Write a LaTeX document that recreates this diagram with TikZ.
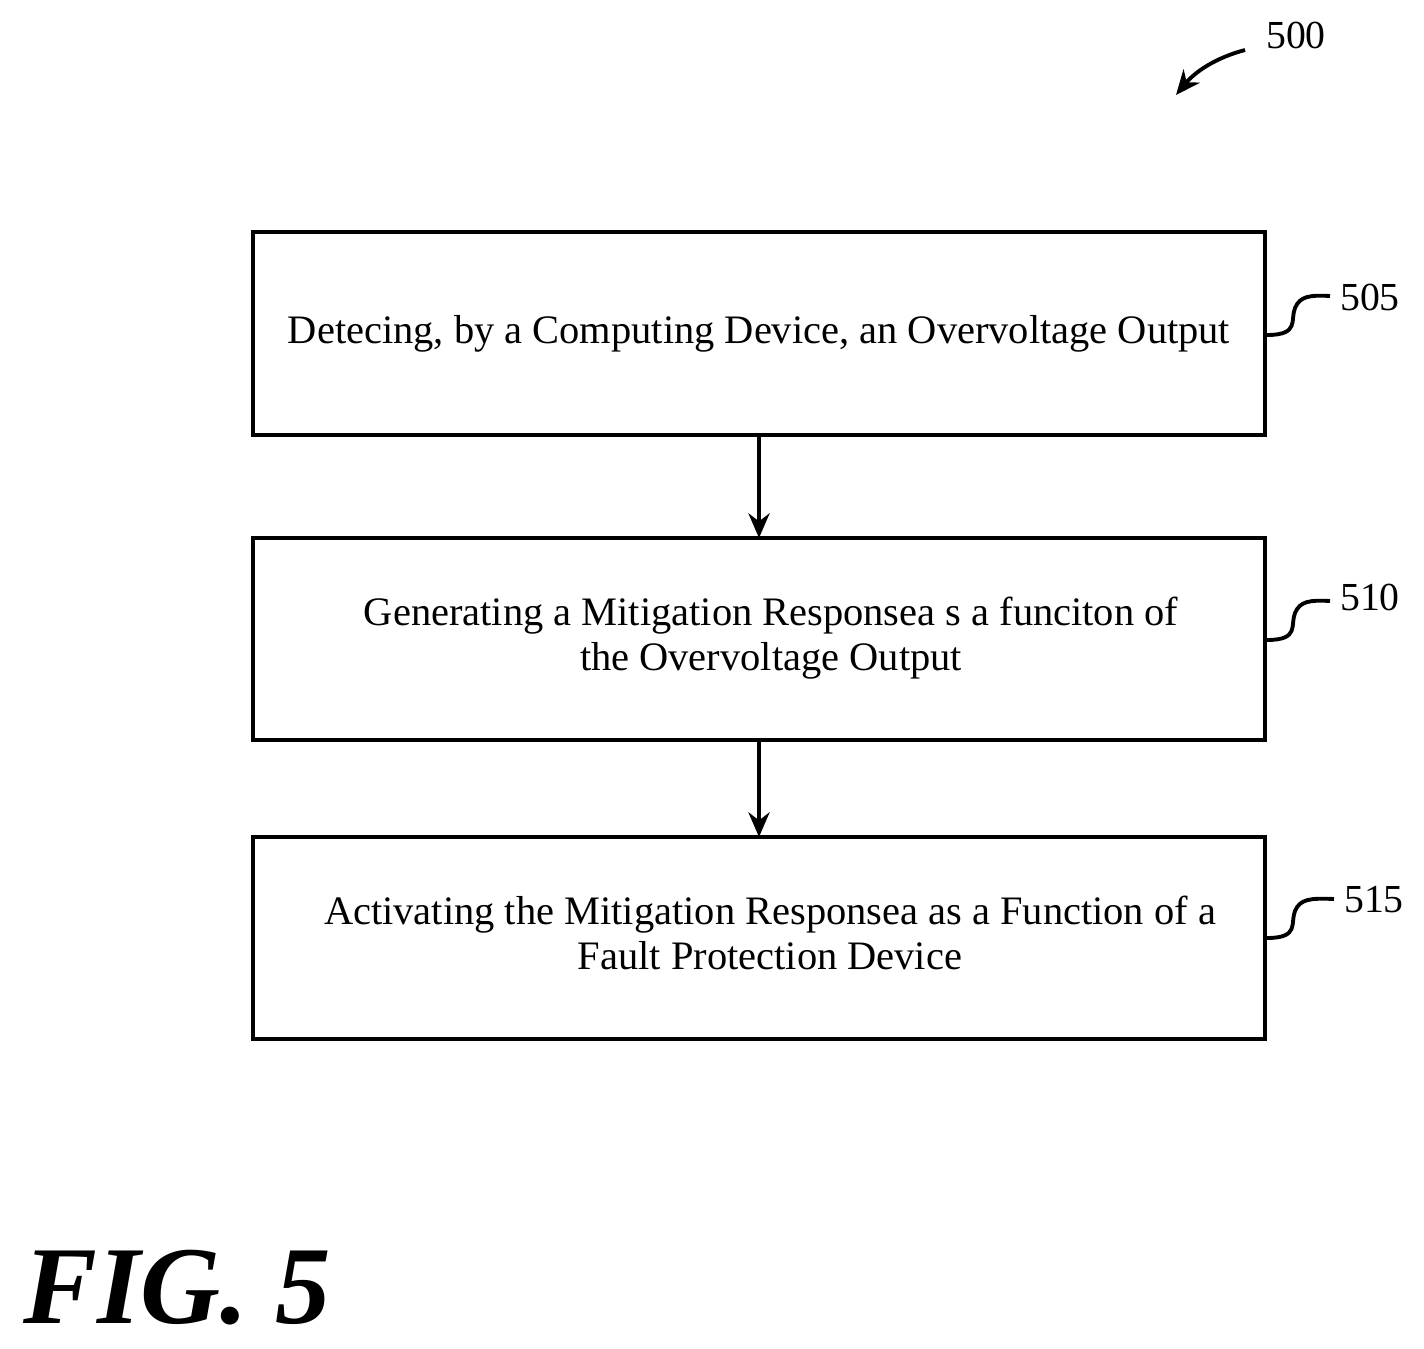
\documentclass[tikz,border=0pt]{standalone}
\usepackage{fontspec}
\setmainfont{Liberation Serif}
\usetikzlibrary{arrows.meta}
\begin{document}
\begin{tikzpicture}[x=0.01cm,y=-0.01cm,
 txt/.style={font=\fontsize{11.5}{12.8}\selectfont,align=center},
 lbl/.style={font=\fontsize{11.3}{12.8}\selectfont},
 arr/.style={line width=1.1pt,-{Stealth[length=7pt,width=6pt]}}]
\useasboundingbox (0,0) rectangle (1424,1349);
\draw[line width=1.1pt] (253,232) rectangle (1265,435);
\draw[line width=1.1pt] (253,538) rectangle (1265,740);
\draw[line width=1.1pt] (253,837) rectangle (1265,1039);
\coordinate (b1b) at (759,435); \coordinate (b2t) at (759,538);
\coordinate (b2b) at (759,740); \coordinate (b3t) at (759,837);
\node[txt] (t1) at (759,334) {Detecing, by a Computing Device, an Overvoltage Output};
\node[txt] (t2) at (771,638) {Generating a Mitigation Responsea s a funciton of\\the Overvoltage Output};
\node[txt] (t3) at (770,933) {Activating the Mitigation Responsea as a Function of a\\Fault Protection Device};
\draw[arr] (b1b) -- (b2t);
\draw[arr] (b2b) -- (b3t);
\node[lbl] (l505) at (1370,297) {505};
\node[lbl] (l510) at (1370,597) {510};
\node[lbl] (l515) at (1374,900) {515};
\node[lbl] (l500) at (1296,35) {500};
\draw[line width=1.1pt] (1267,335) .. controls (1300,335) and (1290,320) .. (1295,308) .. controls (1300,296) and (1310,295) .. (1330,296);
\draw[line width=1.1pt] (1267,640) .. controls (1300,640) and (1290,625) .. (1295,613) .. controls (1300,601) and (1310,600) .. (1330,601);
\draw[line width=1.1pt] (1267,938) .. controls (1300,938) and (1290,923) .. (1295,911) .. controls (1300,899) and (1310,898) .. (1334,899);
\draw[arr] (1245,50) .. controls (1215,58) and (1195,72) .. (1176,95);
\node[font=\fontsize{31.5}{36}\selectfont\bfseries\itshape] (fig) at (177,1288) {FIG. 5};
\end{tikzpicture}
\end{document}
